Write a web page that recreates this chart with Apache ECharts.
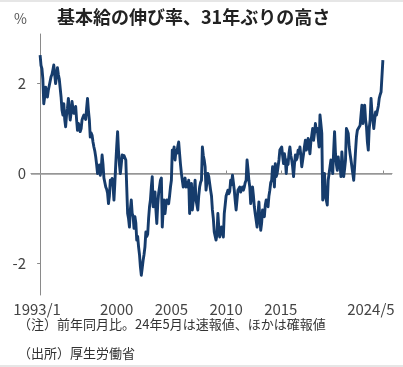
<!DOCTYPE html>
<html><head><meta charset="utf-8">
<script src="https://cdn.jsdelivr.net/npm/echarts@6/dist/echarts.min.js"></script>
<style>html,body{margin:0;padding:0;background:#fff}#c{width:403px;height:367px}</style>
</head><body><div id="c"></div>
<script>
// Monthly year-on-year change of base pay (%), 1993/1 - 2024/5
const y1993 = [2.63, 2.4, 2.33, 2.1, 1.55, 1.7, 1.92, 1.8, 1.70, 1.85, 1.95, 2.05];
const y1994 = [2.15, 2.2, 2.3, 2.41, 2.2, 2.0, 2.15, 2.35, 2.2, 2.1, 2.07, 1.7];
const y1995 = [1.41, 1.3, 1.55, 1.2, 1.04, 1.3, 1.45, 1.67, 1.4, 1.19, 1.35, 1.6];
const y1996 = [1.45, 1.34, 1.4, 1.49, 1.2, 0.96, 1.11, 1.05, 0.93, 1.0, 1.19, 1.25];
const y1997 = [1.3, 1.25, 1.2, 1.45, 1.67, 1.4, 1.19, 0.81, 0.9, 0.85, 0.7, 0.59];
const y1998 = [0.5, 0.37, 0.2, 0.0, 0.1, 0.19, -0.04, 0.1, 0.41, 0.2, -0.1, -0.2];
const y1999 = [-0.3, -0.35, -0.44, -0.67, -0.5, -0.15, -0.2, -0.11, -0.3, -0.59, -0.2, 0.22];
const y2000 = [0.6, 0.93, 0.5, 0.2, 0.0, 0.2, 0.41, 0.35, 0.4, 0.37, 0.3, -0.3];
const y2001 = [-0.89, -1.0, -1.19, -0.8, -0.59, -0.89, -0.95, -1.22, -0.96, -1.1, -1.48, -1.4];
const y2002 = [-1.63, -1.8, -2.07, -2.26, -2.1, -1.93, -1.8, -1.63, -1.3, -1.4, -1.35, -1.0];
const y2003 = [-0.74, -0.59, -0.3, -0.07, -0.74, -0.5, -0.41, -0.8, -1.11, -0.7, -0.44, -0.3];
const y2004 = [-0.15, -0.1, -1.19, -0.8, -0.59, -0.89, -0.7, -0.59, -0.6, -0.67, -0.5, -0.3];
const y2005 = [-0.15, 0.52, 0.4, 0.59, 0.3, 0.5, 0.45, 0.6, 0.7, 0.44, 0.2, 0.0];
const y2006 = [0.0, -0.3, -0.15, -0.1, -0.3, -0.2, -0.3, -0.15, -0.89, -0.5, -0.22, -0.81];
const y2007 = [-0.81, -0.4, -0.15, -0.59, -0.7, -0.81, -0.5, -0.3, -0.2, -0.15, 0.59, 0.4];
const y2008 = [0.3, 0.15, -0.37, -0.2, 0.0, -0.07, -0.1, -0.37, -0.5, -0.81, -1.0, -1.3];
const y2009 = [-1.3, -1.48, -1.35, -0.89, -1.2, -1.41, -1.3, -1.19, -1.3, -1.41, -0.89, -0.7];
const y2010 = [-0.5, -0.44, -0.37, -0.45, -0.4, -0.15, -0.25, -0.04, -0.2, -0.37, -0.6, -0.81];
const y2011 = [-0.81, -0.37, -0.4, -0.3, -0.41, -0.35, -0.3, -0.37, -0.3, -0.2, -0.15, 0.3];
const y2012 = [0.1, -0.15, -0.3, -0.67, -0.5, -0.3, -0.5, -0.74, -0.9, -1.04, -1.19, -0.9];
const y2013 = [-0.63, -1.0, -1.26, -1.1, -0.81, -0.9, -0.96, -0.7, -0.59, -0.65, -0.74, -0.5];
const y2014 = [-0.37, -0.2, -0.15, 0.15, 0.0, -0.3, 0.22, -0.07, 0.0, 0.15, 0.3, 0.52];
const y2015 = [0.52, 0.59, 0.4, 0.22, 0.44, 0.3, 0.0, 0.3, 0.2, 0.45, 0.59, 0.4];
const y2016 = [0.3, 0.15, -0.07, 0.2, 0.41, 0.3, 0.35, 0.52, 0.45, 0.59, 0.4, 0.15];
const y2017 = [0.15, 0.44, 0.6, 0.74, 0.52, 0.6, 0.78, 0.6, 0.44, 0.7, 0.85, 1.0];
const y2018 = [0.74, 0.9, 1.11, 0.93, 1.0, 0.8, 0.59, 1.3, 1.1, 0.89, -0.59, -0.3];
const y2019 = [0.0, -0.52, -0.6, -0.7, -0.15, 0.0, 0.15, 0.3, 0.3, 0.0, 0.5, 0.93];
const y2020 = [0.44, 0.2, 0.07, 0.37, 0.15, 0.2, -0.07, 0.48, 0.2, -0.07, 0.1, 0.3];
const y2021 = [1.0, 0.95, 0.89, 0.6, 0.44, 0.3, 0.15, 0.0, -0.15, 0.15, 0.5, 0.81];
const y2022 = [0.96, 0.96, 1.0, 1.07, 1.07, 1.52, 1.11, 1.3, 1.52, 1.2, 1.04, 0.7];
const y2023 = [0.52, 1.0, 1.19, 1.67, 1.37, 1.2, 1.0, 1.2, 1.37, 1.3, 1.26, 1.5];
const y2024 = [1.67, 1.75, 1.81, 1.85, 2.52];

// Tick positions (month index from 1993/1) and labels
const tickMonths = [0, 84, 144, 204, 264, 376];
const tickLabels = ['1993/1', '2000', '2005', '2010', '2015', '2024/5'];
const yTicks = [-2, 0, 2];

const values = [].concat(y1993, y1994, y1995, y1996, y1997, y1998, y1999, y2000, y2001, y2002,
  y2003, y2004, y2005, y2006, y2007, y2008, y2009, y2010, y2011, y2012, y2013, y2014, y2015,
  y2016, y2017, y2018, y2019, y2020, y2021, y2022, y2023, y2024);
const data = values.map((v, i) => [i, v]);

const chart = echarts.init(document.getElementById('c'), null, {renderer: 'canvas'});
const cjk = "'Noto Sans CJK JP', 'Noto Sans', sans-serif";
const num = "'Liberation Sans Narrow', 'Noto Sans CJK JP', sans-serif";
chart.setOption({
  animation: false,
  backgroundColor: '#fff',
  grid: {left: 31, right: 11, top: 34, bottom: 72, containLabel: false},
  xAxis: {
    type: 'value', min: -10, max: 386,
    axisLine: {show: true, lineStyle: {color: '#8a8a8a', width: 1}},
    axisTick: {show: true, inside: true, length: 3, customValues: tickMonths, lineStyle: {color: '#8a8a8a'}},
    axisLabel: {
      customValues: tickMonths, margin: 7, color: '#444', fontSize: 15, fontFamily: num,
      formatter: function (v) {
        const k = tickMonths.indexOf(Math.round(v));
        if (k < 0) return '';
        if (k === tickMonths.length - 1) return '{e|' + tickLabels[k] + '}';
        if (k === 0) return '{s|' + tickLabels[k] + '}';
        return tickLabels[k];
      },
      rich: {
        e: {fontSize: 15, fontFamily: num, color: '#444', padding: [0, 24, 0, 0]},
        s: {fontSize: 15, fontFamily: num, color: '#444', padding: [0, 6, 0, 0]}
      }
    },
    splitLine: {show: false}
  },
  yAxis: {
    type: 'value', min: -2.7, max: 3.1,
    axisLine: {show: true, lineStyle: {color: '#8a8a8a', width: 1}},
    axisTick: {show: true, length: 3, customValues: yTicks, lineStyle: {color: '#8a8a8a'}},
    axisLabel: {customValues: yTicks, margin: 5, color: '#444', fontSize: 15, fontFamily: num},
    splitLine: {show: false}
  },
  series: [{
    type: 'line', data: data, showSymbol: false, symbol: 'none',
    lineStyle: {color: '#163c6c', width: 2.9, join: 'round'},
    z: 3,
    markLine: {
      silent: true, symbol: 'none', label: {show: false},
      lineStyle: {color: '#9a9a9a', width: 1.5, type: 'solid'},
      data: [{yAxis: 0}], z: 1
    }
  }],
  graphic: [
    {type: 'rect', shape: {x: 0, y: 0, width: 403, height: 2}, style: {fill: '#e6e6e6'}},
    {type: 'rect', shape: {x: 0, y: 365, width: 403, height: 2}, style: {fill: '#e6e6e6'}},
    {type: 'text', left: 14, top: 12, style: {text: '%', font: "14px " + cjk, fill: '#555'}},
    {type: 'text', left: 57, top: 8, style: {text: '基本給の伸び率、31年ぶりの高さ', font: "bold 18px " + cjk, fill: '#222'}},
    {type: 'text', left: 18, top: 318, style: {text: '（注）前年同月比。24年5月は速報値、ほかは確報値', font: "13px " + cjk, fill: '#333'}},
    {type: 'text', left: 18, top: 347, style: {text: '（出所）厚生労働省', font: "13px " + cjk, fill: '#333'}}
  ]
});
</script></body></html>
